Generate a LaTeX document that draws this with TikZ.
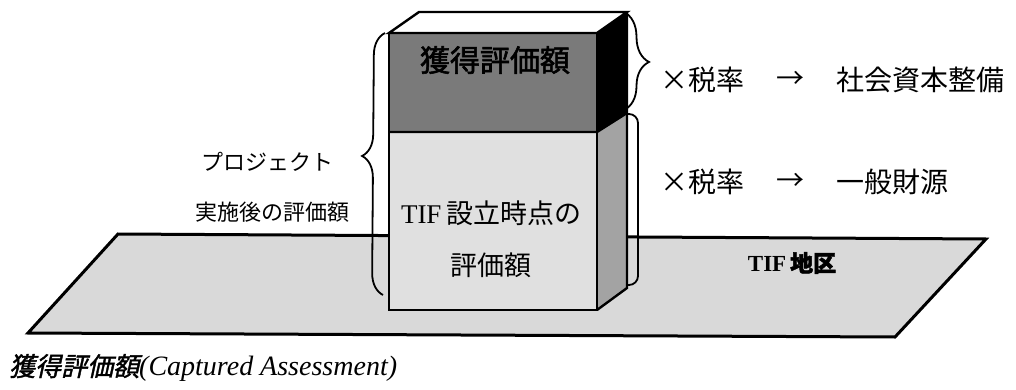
\documentclass[tikz,border=0pt]{standalone}
\usepackage{fontspec}
\setmainfont{Liberation Serif}
\newfontfamily\jp{Noto Sans CJK JP}
\newfontfamily\jpb[FakeBold=2]{Noto Sans CJK JP}
\newfontfamily\jpit[FakeSlant=0.22,FakeBold=1.5]{Noto Sans CJK JP}
\usetikzlibrary{decorations.pathreplacing}
\definecolor{groundgray}{gray}{0.85}
\definecolor{lowfront}{gray}{0.88}
\definecolor{lowside}{gray}{0.64}
\definecolor{upfront}{gray}{0.48}
\tikzset{
  edge/.style={draw=black,line width=2.4pt,line join=miter},
  bracepath/.style={draw=black,line width=1.8pt},
  bigtxt/.style={inner sep=0pt,font=\jp\fontsize{28}{30}\selectfont},
  lefttxt/.style={inner sep=0pt,font=\jp\fontsize{22}{24}\selectfont},
  boxtxt/.style={inner sep=0pt,font=\jp\fontsize{27}{29}\selectfont}
}
\begin{document}
\begin{tikzpicture}[x=1pt,y=-1pt]
\useasboundingbox (0,0) rectangle (1016,390);
% ground
\coordinate (gTL) at (118,234);
\coordinate (gTR) at (986,239);
\coordinate (gBR) at (895,337);
\coordinate (gBL) at (28,333);
\draw[fill=groundgray,line width=3pt,line join=miter] (gTL) -- (gTR) -- (gBR) -- (gBL) -- cycle;
% box corners
\coordinate (fTL) at (389,33);
\coordinate (fTR) at (597,33);
\coordinate (fML) at (389,132);
\coordinate (fMR) at (597,132);
\coordinate (fBL) at (389,310);
\coordinate (fBR) at (597,310);
\coordinate (bTL) at (419,12);
\coordinate (bTR) at (627,12);
\coordinate (bMR) at (627,113);
\coordinate (bBR) at (627,288);
\fill[upfront] (fTL) rectangle (fMR);
\fill[lowfront] (fML) rectangle (fBR);
\fill[white] (fTL) -- (bTL) -- (bTR) -- (fTR) -- cycle;
\fill[black] (fTR) -- (bTR) -- (bMR) -- (fMR) -- cycle;
\fill[lowside] (fMR) -- (bMR) -- (bBR) -- (fBR) -- cycle;
\draw[edge] (fTL) -- (bTL) -- (bTR) -- (fTR) -- cycle;
\draw[edge] (fTL) rectangle (fBR);
\draw[edge] (fML) -- (fMR) -- (bMR);
\draw[edge] (bTR) -- (bBR) -- (fBR);
% braces
\coordinate (lbB) at (383,295);
\coordinate (lbT) at (385,33);
\draw[bracepath,decorate,decoration={brace,amplitude=22pt,aspect=0.53}] (lbB) -- (lbT);
\coordinate (rbT) at (624,12);
\coordinate (rbB) at (624,110);
\draw[bracepath,decorate,decoration={brace,amplitude=25pt,aspect=0.51}] (rbT) -- (rbB);
\coordinate (r2T) at (627,114);
\coordinate (r2B) at (627,285);
\draw[bracepath,rounded corners=9pt] (r2T) -- (638,114) -- (638,285) -- (r2B);
% texts
\node[boxtxt,font=\jpb\fontsize{30}{32}\selectfont] (cap) at (495,60) {獲得評価額};
\node[boxtxt] (tif1) at (491,213) {{\rmfamily TIF}\,設立時点の};
\node[boxtxt] (tif2) at (491,265) {評価額};
\node[lefttxt,anchor=east] (proj) at (334,162) {プロジェクト};
\node[lefttxt,anchor=east] (jissi) at (350,212) {実施後の評価額};
\node[bigtxt,anchor=west] (tax1) at (660,80) {×税率};
\node[bigtxt] (arr1) at (790,80) {→};
\node[bigtxt,anchor=west] (soc) at (836,80) {社会資本整備};
\node[bigtxt,anchor=west] (tax2) at (660,182) {×税率};
\node[bigtxt] (arr2) at (790,182) {→};
\node[bigtxt,anchor=west] (gen) at (836,182) {一般財源};
\node[inner sep=0pt,font=\bfseries\fontsize{23}{25}\selectfont] (dist) at (792,263) {TIF\,{\jpb 地区}};
\node[inner sep=0pt,anchor=west,font=\fontsize{28}{30}\selectfont] (capt) at (9,368) {{\jpit\fontsize{26}{28}\selectfont 獲得評価額}\itshape(Captured Assessment)};
\end{tikzpicture}
\end{document}
